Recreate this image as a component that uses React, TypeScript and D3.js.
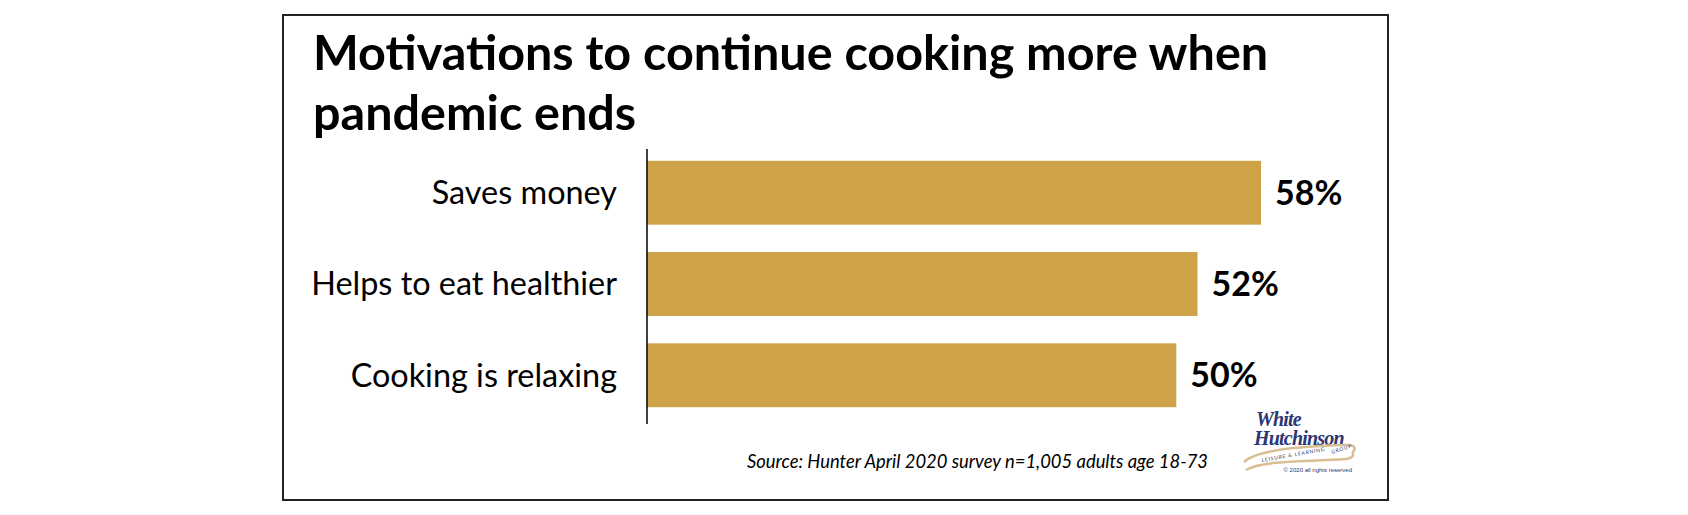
import React from "react";
import * as d3 from "d3";

const categories = ["Saves money", "Helps to eat healthier", "Cooking is relaxing"];
const values = [58, 52, 50];
const titleLines = ["Motivations to continue cooking more when", "pandemic ends"];
const sourceNote = "Source: Hunter April 2020 survey n=1,005 adults age 18-73";

const W = 1688;
const H = 515;
const BAR = "#CEA246";
const NAVY = "#2B3673";
const RIBBON = "#D9BE93";

const App = () => {
  const x = d3.scaleLinear().domain([0, 58]).range([647, 1261]);
  const y = d3.scaleBand().domain(categories).range([138, 430]).paddingInner(0.3).paddingOuter(0.25);

  return (
    <svg width={W} height={H} style={{ position: "absolute", left: 0, top: 0, background: "#fff" }}>
      <rect x={283} y={15} width={1105} height={485} fill="#fff" stroke="#222" strokeWidth={2} />

      {titleLines.map((t, i) => (
        <text key={i} x={313} y={70 + i * 60} fontFamily="Lato, 'Open Sans', sans-serif"
          fontWeight={700} fontSize={48.5} fill="#000">{t}</text>
      ))}

      {categories.map((c, i) => (
        <g key={c}>
          <rect x={x(0)} y={y(c)} width={x(values[i]) - x(0)} height={y.bandwidth()} fill={BAR} />
          <text x={617} y={y(c) + y.bandwidth() / 2} dy="0.35em" textAnchor="end"
            fontFamily="Lato, sans-serif" fontSize={32.4} fill="#000">{c}</text>
          <text x={x(values[i]) + 14} y={y(c) + y.bandwidth() / 2} dy="0.35em"
            fontFamily="Lato, sans-serif" fontWeight={700} fontSize={34} fill="#000">{values[i]}%</text>
        </g>
      ))}

      <line x1={x(0)} x2={x(0)} y1={149} y2={424} stroke="#000" strokeWidth={1.5} />

      <text x={1208} y={468} textAnchor="end" fontFamily="Lato, sans-serif" fontStyle="italic"
        fontSize={18.4} fill="#000">{sourceNote}</text>

      {/* logo */}
      <g>
        <text x={1256} y={426} fontFamily="'Liberation Serif', serif" fontStyle="italic" fontWeight={700}
          fontSize={20} fill={NAVY} letterSpacing={-0.8}>White</text>
        <text x={1254} y={445} fontFamily="'Liberation Serif', serif" fontStyle="italic" fontWeight={700}
          fontSize={20} fill={NAVY} letterSpacing={-0.8}>Hutchinson</text>
        <path d="M1244,462 C1256,450 1300,446 1348,445 C1356,445 1356,450 1352,452"
          fill="none" stroke={RIBBON} strokeWidth={2.5} />
        <path d="M1246,470 C1262,460 1306,462 1346,459 C1354,458 1354,454 1352,452"
          fill="none" stroke={RIBBON} strokeWidth={2.5} />
        <text x={1262} y={462} fontFamily="Lato, sans-serif" fontSize={5} fill={NAVY}
          letterSpacing={0.8} transform="rotate(-10 1262 462)">LEISURE &amp; LEARNING</text>
        <text x={1332} y={454} fontFamily="Lato, sans-serif" fontSize={5} fill={NAVY}
          letterSpacing={0.8} transform="rotate(-18 1332 454)">GROUP</text>
        <text x={1352} y={472} textAnchor="end" fontFamily="'Liberation Sans', sans-serif" fontSize={6}
          fill={NAVY}>© 2020 all rights reserved</text>
      </g>
    </svg>
  );
};

export default App;
